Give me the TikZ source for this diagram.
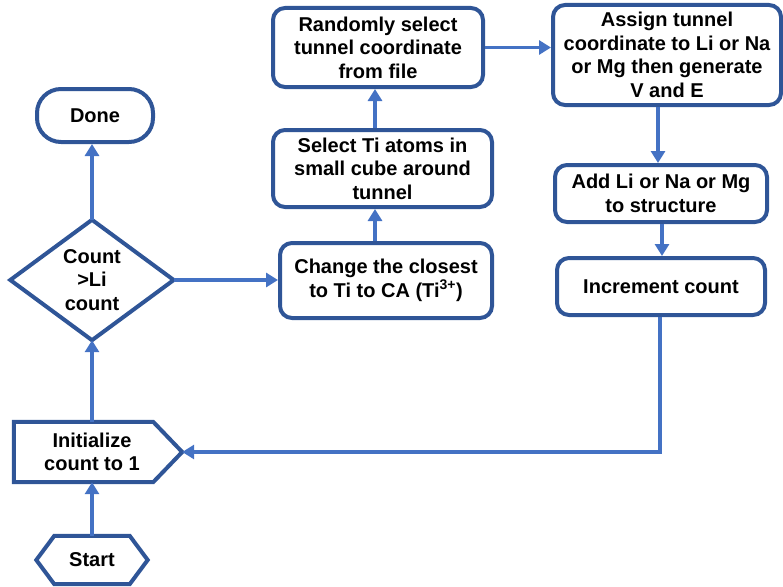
\documentclass[tikz,border=0pt]{standalone}
\usepackage{fontspec}
\setmainfont{Liberation Sans}
\usetikzlibrary{arrows.meta}
\definecolor{edgeblue}{HTML}{2F5597}
\definecolor{flowblue}{HTML}{4472C4}
\begin{document}
\begin{tikzpicture}[x=1pt,y=-1pt,
  txt/.style={font=\fontsize{20}{23.5}\selectfont\bfseries, align=center, inner sep=0pt},
  procbox/.style={txt, draw=edgeblue, line width=4pt, rounded corners=12pt, fill=white},
  shapebox/.style={txt},
  outline/.style={draw=edgeblue, line width=4pt, line join=miter, fill=white},
  flow/.style={draw=flowblue, line width=3.6pt, -{Triangle[width=14pt,length=12pt]}}]
\useasboundingbox (0,0) rectangle (783,586);

% process boxes
\node[procbox, minimum width=116, minimum height=53, rounded corners=24pt] (done) at (95,115.5) {Done};
\node[procbox, minimum width=210, minimum height=79] (rand) at (378,47.5) {Randomly select\\tunnel coordinate\\from file};
\node[procbox, minimum width=219, minimum height=77] (sel) at (382.5,168.5) {Select Ti atoms in\\small cube around\\tunnel};
\node[procbox, minimum width=212, minimum height=75] (chg) at (386,280.5) {Change the closest\\to Ti to CA (Ti\textsuperscript{3+})};
\node[procbox, minimum width=228, minimum height=100] (asg) at (667,55) {Assign tunnel\\coordinate to Li or Na\\or Mg then generate\\V and E};
\node[procbox, minimum width=212, minimum height=57] (add) at (661,193.5) {Add Li or Na or Mg\\to structure};
\node[procbox, minimum width=208, minimum height=57] (inc) at (661,286.5) {Increment count};

% decision diamond
\node[shapebox, minimum width=163, minimum height=120] (dec) at (92,280) {};
\draw[outline] (dec.north) -- (dec.east) -- (dec.south) -- (dec.west) -- cycle;
\node[txt] at (dec.center) {Count\\>Li\\count};

% initialisation block with pointed right side
\node[shapebox, minimum width=156, minimum height=60] (init) at (92,452) {};
\coordinate (inittip) at ([xshift=12pt]init.east);
\draw[outline] (init.north west) -- ([xshift=-17pt]init.north east) -- (inittip)
  -- ([xshift=-17pt]init.south east) -- (init.south west) -- cycle;
\node[txt] at (init.center) {Initialize\\count to 1};

% start terminal
\node[shapebox, minimum width=75, minimum height=48] (start) at (92,560) {};
\draw[outline] (start.north west) -- (start.north east) -- ([xshift=18pt]start.east)
  -- (start.south east) -- (start.south west) -- ([xshift=-18pt]start.west) -- cycle;
\node[txt] at (start.center) {Start};

% connectors
\draw[flow] (start.north) -- (init.south);
\draw[flow] (init.north) -- (dec.south);
\draw[flow] (dec.north) -- (dec.north |- done.south);
\draw[flow] (dec.east) -- (dec.east -| chg.west);
\draw[flow] ([xshift=-11pt]chg.north) -- ([xshift=-7.5pt]sel.south);
\draw[flow] ([xshift=-7.5pt]sel.north) -- ([xshift=-3pt]rand.south);
\draw[flow] (rand.east) -- (rand.east -| asg.west);
\draw[flow] ([xshift=-9pt]asg.south) -- ([xshift=-3pt]add.north);
\draw[flow] ([xshift=1pt]add.south) -- ([xshift=1pt]inc.north);
\draw[flow] ([xshift=-1pt]inc.south) |- (inittip);
\end{tikzpicture}
\end{document}
